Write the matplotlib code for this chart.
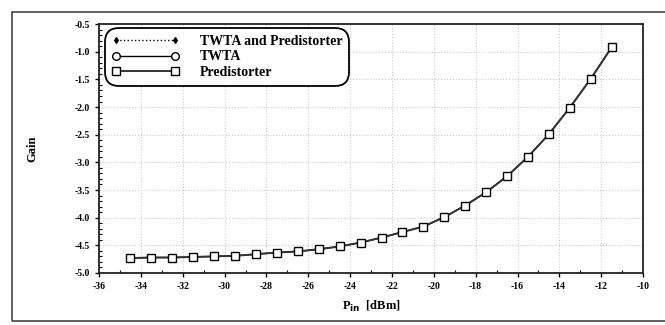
import numpy as np
import matplotlib
matplotlib.use('Agg')
import matplotlib.pyplot as plt
from matplotlib.patches import Rectangle
from matplotlib.ticker import MultipleLocator

# input power [dBm] and gain
p_in = [-34.5, -33.5, -32.5, -31.5, -30.5, -29.5, -28.5, -27.5,
        -26.5, -25.5, -24.5, -23.5, -22.5, -21.5, -20.5, -19.5,
        -18.5, -17.5, -16.5, -15.5, -14.5, -13.5, -12.5, -11.5]
gain_twta = [-4.73, -4.72, -4.72, -4.71, -4.70, -4.69, -4.66, -4.63,
             -4.61, -4.57, -4.52, -4.45, -4.36, -4.26, -4.16, -3.99,
             -3.78, -3.54, -3.25, -2.90, -2.49, -2.01, -1.49, -0.92]
gain_pred = list(gain_twta)
gain_both = []  # not shown on this axis range

x_ticks = list(range(-36, -9, 2))
y_ticks = [-5.0, -4.5, -4.0, -3.5, -3.0, -2.5, -2.0, -1.5, -1.0, -0.5]

plt.rcParams['font.family'] = ['Liberation Serif', 'DejaVu Serif']
plt.rcParams['font.weight'] = 'bold'

fig = plt.figure(figsize=(6.65, 3.25), dpi=100)
ax = fig.add_axes([0.149, 0.16, 0.818, 0.766])

# outer frame round the whole figure
fig.patches.append(Rectangle((12 / 665, 4 / 325), 1.0, 1 - 16 / 325,
                             transform=fig.transFigure, fill=False,
                             edgecolor='#444444', linewidth=1.2))

ax.plot(p_in[:len(gain_both)], gain_both, linestyle=':', color='black',
        marker='d', markersize=3, linewidth=1.0,
        label='TWTA and Predistorter')
ax.plot(p_in, gain_twta, color='black', marker='o', markersize=5.5,
        markerfacecolor='white', markeredgecolor='black',
        linewidth=1.0, label='TWTA')
ax.plot(p_in, gain_pred, color='#333333', marker='s', markersize=5.5,
        markerfacecolor='white', markeredgecolor='black',
        linewidth=1.4, label='Predistorter')

ax.set_xlim(-36, -10)
ax.set_ylim(-5.0, -0.5)
ax.set_xticks(x_ticks)
ax.set_yticks(y_ticks)
ax.set_xticklabels(['%d' % t for t in x_ticks])
ax.set_yticklabels(['%.1f' % t for t in y_ticks])
ax.xaxis.set_minor_locator(MultipleLocator(1))
ax.yaxis.set_minor_locator(MultipleLocator(0.1))
ax.tick_params(which='major', direction='out', length=3, width=1,
               labelsize=7)
ax.tick_params(which='minor', direction='in', length=2, width=0.8)
for lab in ax.get_xticklabels() + ax.get_yticklabels():
    lab.set_fontweight('bold')

ax.grid(True, which='major', linestyle=':', color='#c4ccd2',
        linewidth=0.8)
for s in ax.spines.values():
    s.set_linewidth(1.3)
    s.set_color('#222222')

ax.set_xlabel('P$_{\\mathbf{in}}$  [dBm]', fontsize=9, fontweight='bold',
              labelpad=6)
ax.set_ylabel('Gain', fontsize=9, fontweight='bold', labelpad=26)

leg = ax.legend(loc='upper left', bbox_to_anchor=(0.014, 0.98),
                handlelength=4.8, fontsize=10, fancybox=True, numpoints=2,
                framealpha=1, edgecolor='black', borderpad=0.2,
                labelspacing=0.2, handletextpad=1.5, borderaxespad=0.2)
leg.get_frame().set_linewidth(1.3)
leg.get_frame().set_boxstyle('round,pad=0.3,rounding_size=1.0')
for t in leg.get_texts():
    t.set_fontweight('bold')

fig.savefig('out.png', dpi=100)
